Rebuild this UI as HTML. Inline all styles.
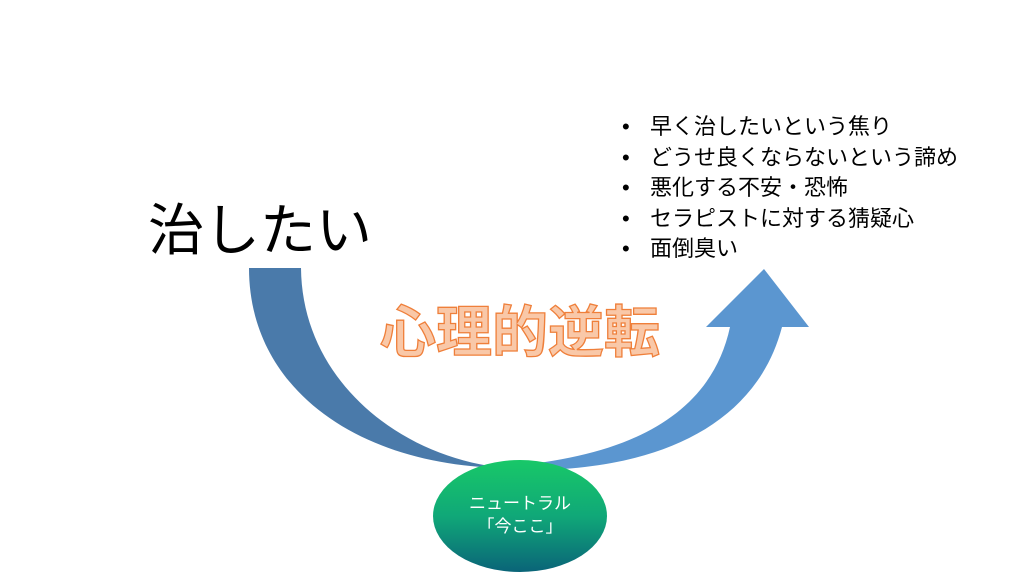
<!DOCTYPE html>
<html><head><meta charset="utf-8"><style>
body{margin:0;width:1024px;height:576px;background:#fff;overflow:hidden;position:relative;font-family:"Liberation Sans","Noto Sans CJK JP",sans-serif}
ul{position:absolute;left:622px;top:112px;margin:0;padding:0;list-style:none;font-size:22px;line-height:30.5px;color:#000}
li::before{content:"•";display:inline-block;width:28px}
</style></head><body>
<svg width="1024" height="576" style="position:absolute;left:0;top:0">
<defs><linearGradient id="g" x1="0" y1="0" x2="0" y2="1"><stop offset="0" stop-color="#18c868"/><stop offset="0.5" stop-color="#10a878"/><stop offset="1" stop-color="#0a6478"/></linearGradient></defs>
<path d="M249,268 L301,268 C302,380 400,458 505,468 C360,466 249,390 249,268 Z" fill="#4a7aaa"/>
<path d="M480,468 C620,462 710,420 730,327 L706,327 L764,269 L809,327 L782,327 C755,430 650,470 530,470 Z" fill="#5b96d0"/>
<ellipse cx="520" cy="516" rx="87" ry="56" fill="url(#g)"/>
<text x="520" y="509" font-size="17" fill="#fff" text-anchor="middle" font-family="Liberation Sans,Noto Sans CJK JP,sans-serif">ニュートラル</text>
<text x="520" y="532" font-size="17" fill="#fff" text-anchor="middle" font-family="Liberation Sans,Noto Sans CJK JP,sans-serif">「今ここ」</text>
<text x="520" y="352" font-size="56" font-weight="bold" fill="#f9c8a8" stroke="#ef7f3a" stroke-width="1.3" text-anchor="middle" font-family="Liberation Sans,Noto Sans CJK JP,sans-serif">心理的逆転</text>
<text x="148" y="250" font-size="56" fill="#000" font-family="Liberation Sans,Noto Sans CJK JP,sans-serif">治したい</text>
</svg>
<ul>
<li>早く治したいという焦り</li>
<li>どうせ良くならないという諦め</li>
<li>悪化する不安・恐怖</li>
<li>セラピストに対する猜疑心</li>
<li>面倒臭い</li>
</ul>
</body></html>
